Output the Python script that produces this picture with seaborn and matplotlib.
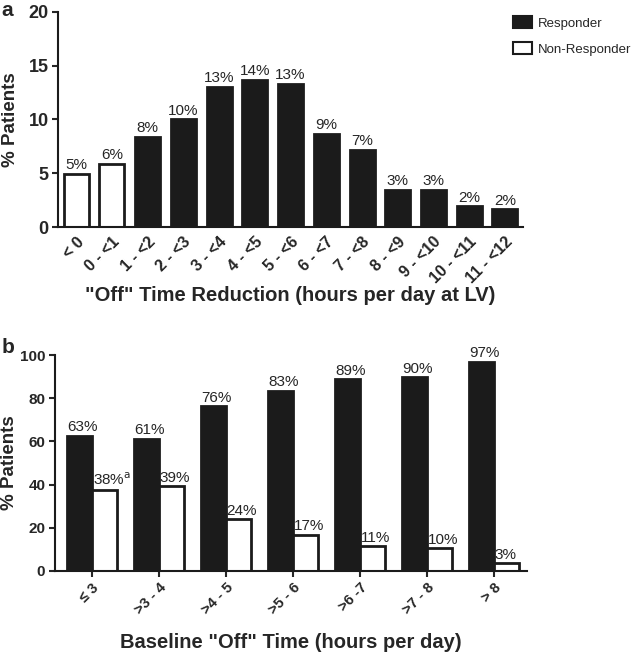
import pandas as pd
import seaborn as sns
import matplotlib.pyplot as plt
from matplotlib.patches import Patch

# Panel a data
reduction_bins = ['< 0', '0 - <1', '1 - <2', '2 - <3', '3 - <4', '4 - <5', '5 - <6',
                  '6 - <7', '7 - <8', '8 - <9', '9 - <10', '10 - <11', '11 - <12']
reduction_pct = [4.95, 5.9, 8.4, 10.0, 13.05, 13.7, 13.3, 8.7, 7.2, 3.5, 3.5, 1.95, 1.65]
reduction_labels = ['5%', '6%', '8%', '10%', '13%', '14%', '13%', '9%', '7%', '3%', '3%', '2%', '2%']
reduction_group = ['Non-Responder', 'Non-Responder'] + ['Responder'] * 11

# Panel b data
baseline_bins = ['≤ 3', '>3 - 4', '>4 - 5', '>5 - 6', '>6 -7', '>7 - 8', '> 8']
responder_pct = [62.7, 61.1, 76.3, 83.3, 88.8, 89.7, 96.9]
nonresponder_pct = [37.5, 39.2, 23.8, 16.8, 11.3, 10.4, 3.4]
responder_labels = ['63%', '61%', '76%', '83%', '89%', '90%', '97%']
nonresponder_labels = ['38%$^{\\mathrm{a}}$', '39%', '24%', '17%', '11%', '10%', '3%']

sns.set_style('ticks')
plt.rcParams['font.family'] = ['Liberation Sans', 'DejaVu Sans']

dark = '#1b1b1b'
palette = {'Responder': dark, 'Non-Responder': 'white'}

fig = plt.figure(figsize=(6.33, 6.53), dpi=100)
ax_a = fig.add_axes([0.092, 0.652, 0.734, 0.330])
ax_b = fig.add_axes([0.087, 0.126, 0.746, 0.330])

# ---- panel a
df_a = pd.DataFrame({'bin': reduction_bins, 'pct': reduction_pct, 'group': reduction_group})
sns.barplot(data=df_a, x='bin', y='pct', hue='group', order=reduction_bins, dodge=False,
            palette=palette, edgecolor=dark, linewidth=2, width=0.7, legend=False, ax=ax_a)
for p in ax_a.patches:
    if p.get_height() != p.get_height() or p.get_height() == 0:
        continue
    i = int(round(p.get_x() + p.get_width() / 2))
    ax_a.text(p.get_x() + p.get_width() / 2, p.get_height() + 0.15, reduction_labels[i],
              ha='center', va='bottom', fontsize=11)
ax_a.set_ylim(0, 20)
ax_a.set_yticks([0, 5, 10, 15, 20])
ax_a.set_xlim(-0.5, 12.5)
ax_a.set_ylabel('% Patients', fontsize=13.5, fontweight='bold')
ax_a.yaxis.set_label_coords(-0.084, 0.5)
ax_a.set_xlabel('"Off" Time Reduction (hours per day at LV)', fontsize=14.5, fontweight='bold')
ax_a.xaxis.set_label_coords(0.5, -0.316)
ax_a.xaxis.label.set_va('center')
ax_a.tick_params(axis='x', length=0, pad=5)
ax_a.tick_params(axis='y', length=4, width=1.5, pad=3)
plt.setp(ax_a.get_xticklabels(), rotation=45, ha='right', rotation_mode='anchor',
         fontweight='bold', fontsize=11.5)
plt.setp(ax_a.get_yticklabels(), fontweight='bold', fontsize=13)

# ---- panel b
df_b = pd.DataFrame({
    'bin': baseline_bins * 2,
    'pct': responder_pct + nonresponder_pct,
    'group': ['Responder'] * len(baseline_bins) + ['Non-Responder'] * len(baseline_bins),
})
sns.barplot(data=df_b, x='bin', y='pct', hue='group', order=baseline_bins,
            hue_order=['Responder', 'Non-Responder'], palette=palette,
            edgecolor=dark, linewidth=2, width=0.75, legend=False, ax=ax_b)
# labels in panel b sit left-aligned on each bar
for cont, labs in zip(ax_b.containers, [responder_labels, nonresponder_labels]):
    for p, lab in zip(cont.patches, labs):
        ax_b.text(p.get_x() + 0.01, p.get_height() + 0.8, lab,
                  ha='left', va='bottom', fontsize=11)
ax_b.set_ylim(0, 100)
ax_b.set_yticks([0, 20, 40, 60, 80, 100])
ax_b.set_xlim(-0.55, 6.5)
ax_b.set_ylabel('% Patients', fontsize=13.5, fontweight='bold')
ax_b.yaxis.set_label_coords(-0.079, 0.5)
ax_b.set_xlabel('Baseline "Off" Time (hours per day)', fontsize=14.5, fontweight='bold')
ax_b.xaxis.set_label_coords(0.5, -0.333)
ax_b.xaxis.label.set_va('center')
ax_b.tick_params(axis='x', length=4, width=1.5, pad=3)
ax_b.tick_params(axis='y', length=4, width=1.5, pad=3)
plt.setp(ax_b.get_xticklabels(), rotation=45, ha='right', rotation_mode='anchor',
         fontweight='bold', fontsize=10.5)
plt.setp(ax_b.get_yticklabels(), fontweight='bold', fontsize=11)

for ax in (ax_a, ax_b):
    sns.despine(ax=ax)
    for s in ('left', 'bottom'):
        ax.spines[s].set_linewidth(1.5)
        ax.spines[s].set_color(dark)

handles = [Patch(facecolor=dark, edgecolor=dark, linewidth=1.5),
           Patch(facecolor='white', edgecolor=dark, linewidth=1.5)]
fig.legend(handles, ['Responder', 'Non-Responder'], loc='upper left',
           bbox_to_anchor=(0.795, 0.99), frameon=False, fontsize=9.5,
           handlelength=1.4, handleheight=1.0, labelspacing=0.95, handletextpad=0.45,
           borderpad=0.25)

fig.text(0.002, 0.998, 'a', fontsize=15, fontweight='bold', va='top', ha='left')
fig.text(0.002, 0.482, 'b', fontsize=15, fontweight='bold', va='top', ha='left')

fig.savefig('out.png', dpi=100)
